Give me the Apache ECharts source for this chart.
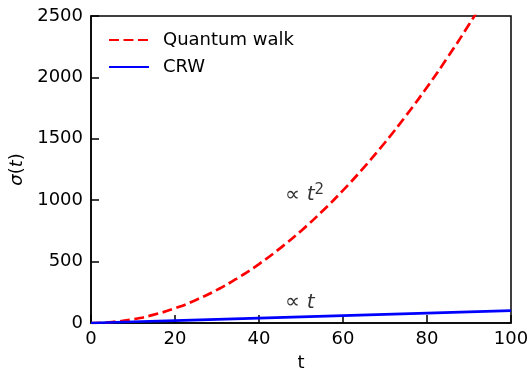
<!DOCTYPE html>
<html>
<head>
<meta charset="utf-8">
<style>
  html, body { margin: 0; padding: 0; background: #fff; }
  #chart { width: 529px; height: 369px; }
</style>
<script src="https://cdn.jsdelivr.net/npm/echarts@6/dist/echarts.min.js"></script>
</head>
<body>
<div id="chart"></div>
<script>
// Spreading of the walker: quantum walk grows ~ t^2, classical random walk ~ t
const quantumT = [0, 5, 10, 15, 20, 25, 30, 35, 40, 45, 50, 55, 60, 65, 70, 75, 80, 85, 90, 95, 100];
const quantumSigma = [0, 8, 30, 68, 120, 188, 270, 368, 480, 608, 750, 908, 1080, 1268, 1470, 1688, 1920, 2168, 2430, 2708, 3000];
const crwT = [0, 10, 20, 30, 40, 50, 60, 70, 80, 90, 100];
const crwSigma = [0, 10, 20, 30, 40, 50, 60, 70, 80, 90, 100];
const xTicks = [0, 20, 40, 60, 80, 100];
const yTicks = [0, 500, 1000, 1500, 2000, 2500];

const FONT = 'DejaVu Sans';
const chart = echarts.init(document.getElementById('chart'), null, { renderer: 'canvas' });

const pair = (xs, ys) => xs.map((x, i) => [x, ys[i]]);

chart.setOption({
  animation: false,
  backgroundColor: '#fff',
  textStyle: { fontFamily: FONT },
  grid: {
    left: 91, right: 18, top: 16, bottom: 46,
    outerBoundsMode: 'none',
    containLabel: false,
    show: true, borderColor: '#000', borderWidth: 1.5, backgroundColor: 'transparent'
  },
  legend: {
    orient: 'vertical',
    left: 108, top: 31,
    padding: 0,
    itemWidth: 40, itemHeight: 14, itemGap: 9,
    itemStyle: { opacity: 0 },
    textStyle: { fontFamily: FONT, fontSize: 18, color: '#000', padding: [0, 0, 0, 9] },
    data: ['Quantum walk', 'CRW']
  },
  xAxis: {
    type: 'value',
    min: xTicks[0], max: xTicks[xTicks.length - 1], interval: xTicks[1] - xTicks[0],
    name: 't', nameLocation: 'middle', nameGap: 31,
    nameTextStyle: { fontFamily: FONT, fontSize: 18, color: '#000' },
    axisLine: { show: true, lineStyle: { color: '#000', width: 1.5 } },
    axisTick: { show: true, inside: true, length: 8, lineStyle: { color: '#000', width: 1.5 } },
    axisLabel: { fontFamily: FONT, fontSize: 18, color: '#000', margin: 7, formatter: v => String(v) },
    splitLine: { show: false }
  },
  yAxis: {
    type: 'value',
    min: yTicks[0], max: yTicks[yTicks.length - 1], interval: yTicks[1] - yTicks[0],
    name: '{i|σ}{r|(}{i|t}{r|)}', nameLocation: 'middle', nameGap: 56, nameRotate: 90,
    nameTextStyle: {
      rich: {
        i: { fontFamily: FONT, fontSize: 18, fontStyle: 'italic', color: '#000' },
        r: { fontFamily: FONT, fontSize: 18, color: '#000' }
      }
    },
    axisLine: { show: true, lineStyle: { color: '#000', width: 1.5 } },
    axisTick: { show: true, inside: true, length: 8, lineStyle: { color: '#000', width: 1.5 } },
    axisLabel: { fontFamily: FONT, fontSize: 18, color: '#000', margin: 8, formatter: v => String(v) },
    splitLine: { show: false }
  },
  series: [
    {
      name: 'Quantum walk',
      type: 'line',
      data: pair(quantumT, quantumSigma),
      smooth: true,
      symbol: 'none',
      clip: true,
      z: 3,
      lineStyle: { color: '#ff0000', width: 2.7, type: [10, 4.5] },
      itemStyle: { color: '#ff0000' }
    },
    {
      name: 'CRW',
      type: 'line',
      data: pair(crwT, crwSigma),
      symbol: 'none',
      clip: true,
      z: 4,
      lineStyle: { color: '#0000ff', width: 2.7 },
      itemStyle: { color: '#0000ff' }
    },
    {
      // scaling annotations placed in data coordinates
      name: 'notes',
      type: 'scatter',
      symbolSize: 0,
      silent: true,
      z: 5,
      label: {
        show: true,
        position: 'right',
        distance: 0,
        formatter: p => p.data[2],
        rich: {
          p: { fontFamily: FONT, fontSize: 21, color: '#000' },
          t: { fontFamily: FONT, fontSize: 20, fontStyle: 'italic', color: '#000' },
          s: { fontFamily: FONT, fontSize: 15, color: '#000', verticalAlign: 'top', padding: [0, 0, 10, 0] }
        }
      },
      data: [
        [46.2, 1040, '{p|∝ }{t|t}{s|2}'],
        [46.2, 165, '{p|∝ }{t|t}']
      ]
    }
  ]
});
</script>
</body>
</html>
